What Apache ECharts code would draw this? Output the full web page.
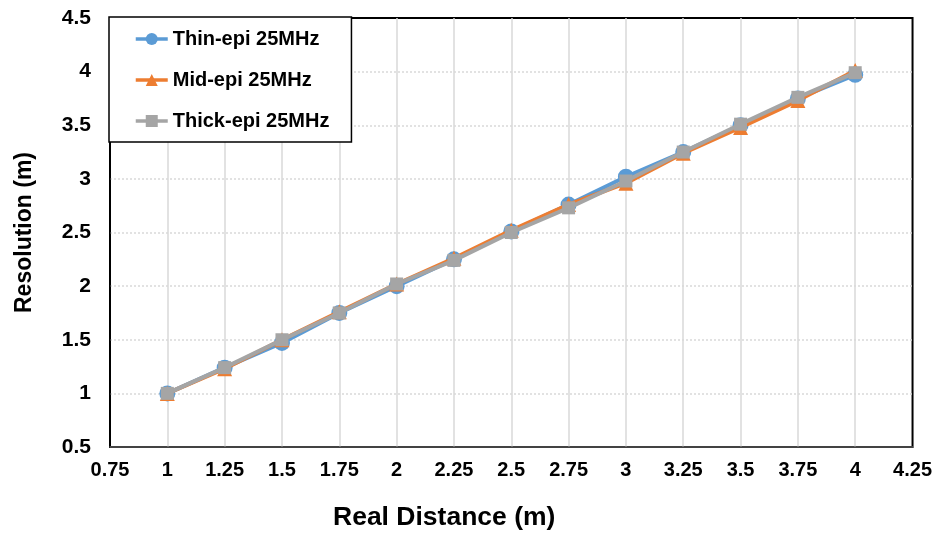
<!DOCTYPE html>
<html>
<head>
<meta charset="utf-8">
<script src="https://cdn.jsdelivr.net/npm/echarts@6/dist/echarts.min.js"></script>
<style>html,body{margin:0;padding:0;background:#fff;}#c{width:935px;height:534px;}</style>
</head>
<body>
<div id="c"></div>
<script>
const xValues = [1, 1.25, 1.5, 1.75, 2, 2.25, 2.5, 2.75, 3, 3.25, 3.5, 3.75, 4];
const thinEpi = [1.0, 1.24, 1.47, 1.75, 2.0, 2.25, 2.51, 2.76, 3.02, 3.25, 3.5, 3.75, 3.97];
const midEpi = [1.0, 1.23, 1.5, 1.76, 2.02, 2.26, 2.52, 2.76, 2.96, 3.24, 3.48, 3.73, 4.01];
const thickEpi = [1.0, 1.24, 1.5, 1.75, 2.02, 2.24, 2.5, 2.73, 2.98, 3.25, 3.51, 3.76, 3.99];
const seriesNames = ['Thin-epi 25MHz', 'Mid-epi 25MHz', 'Thick-epi 25MHz'];
const xTitle = 'Real Distance (m)';
const yTitle = 'Resolution (m)';

const pairs = (ys) => xValues.map((x, i) => [x, ys[i]]);
const font = 'Arial, "Liberation Sans", sans-serif';

const chart = echarts.init(document.getElementById('c'), null, {renderer: 'canvas'});
chart.setOption({
  animation: false,
  backgroundColor: '#fff',
  grid: {left: 110, right: 22, top: 18, bottom: 87, show: true, borderColor: '#000', borderWidth: 2},
  legend: {
    orient: 'vertical', left: 109, top: 17,
    padding: [12, 22, 11, 25], itemGap: 21,
    itemWidth: 32, itemHeight: 15,
    backgroundColor: '#fff', borderColor: '#000', borderWidth: 1.5,
    lineStyle: {width: 3.5},
    textStyle: {fontFamily: font, fontWeight: 'bold', fontSize: 20, color: '#000'},
    data: seriesNames
  },
  xAxis: {
    type: 'value', min: 0.75, max: 4.25, interval: 0.25,
    axisLine: {show: true, lineStyle: {color: '#595959', width: 1.5}},
    axisTick: {show: false},
    axisLabel: {fontFamily: font, fontWeight: 'bold', fontSize: 20, color: '#000', margin: 13},
    splitLine: {show: true, showMinLine: false, showMaxLine: false, lineStyle: {color: '#d9d9d9', width: 1.5, type: 'solid'}}
  },
  yAxis: {
    type: 'value', min: 0.5, max: 4.5, interval: 0.5,
    name: yTitle, nameLocation: 'middle', nameGap: 74,
    nameTextStyle: {fontFamily: font, fontWeight: 'bold', fontSize: 23, color: '#000'},
    axisLine: {show: true, lineStyle: {color: '#000', width: 1.5}},
    axisTick: {show: false},
    axisLabel: {fontFamily: font, fontWeight: 'bold', fontSize: 21, color: '#000', margin: 19},
    splitLine: {show: true, showMinLine: false, showMaxLine: false, lineStyle: {color: '#d9d9d9', width: 1.5, type: [2, 2]}}
  },
  graphic: [{
    type: 'text', left: 333, top: 504,
    style: {text: xTitle, font: 'bold 26.5px ' + font, fill: '#000'}
  }],
  series: [
    {name: seriesNames[0], type: 'line', data: pairs(thinEpi), symbol: 'circle', symbolSize: 16,
     itemStyle: {color: '#5B9BD5'}, lineStyle: {color: '#5B9BD5', width: 4}, z: 2},
    {name: seriesNames[1], type: 'line', data: pairs(midEpi), symbol: 'triangle', symbolSize: 15,
     itemStyle: {color: '#ED7D31'}, lineStyle: {color: '#ED7D31', width: 4}, z: 3},
    {name: seriesNames[2], type: 'line', data: pairs(thickEpi), symbol: 'rect', symbolSize: 13,
     itemStyle: {color: '#A5A5A5'}, lineStyle: {color: '#A5A5A5', width: 4}, z: 4}
  ]
});
</script>
</body>
</html>
